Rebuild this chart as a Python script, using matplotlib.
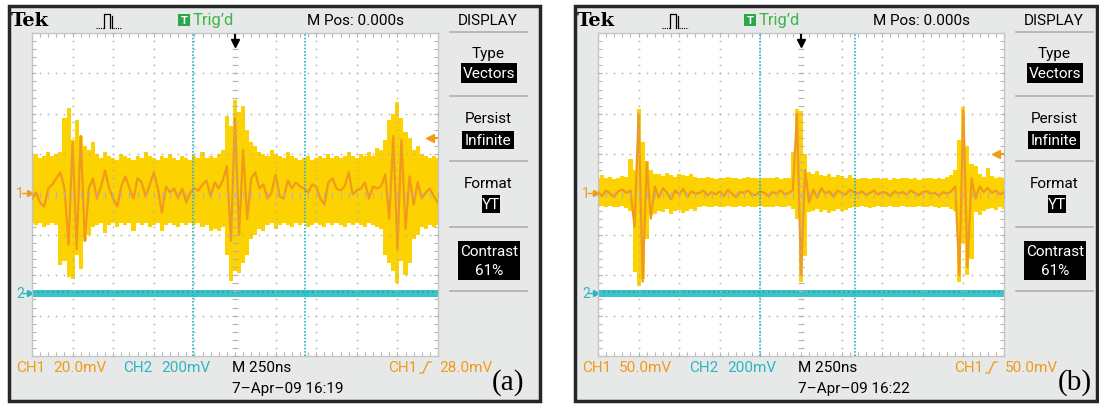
import matplotlib.pyplot as plt
import numpy as np
from matplotlib.patches import Rectangle
from matplotlib.lines import Line2D

# 101 screen samples, 25 ns apart (250 ns/div, 10 div)
time_ns = np.linspace(-1250, 1250, 101)

# --- panel (a): CH1 20 mV/div, persistence envelope + averaged vector trace
a_top_mv = [19, 20, 18, 19, 21, 19, 20,
            21, 38, 43, 27, 37, 29, 24, 22, 26,
            20, 18, 21, 19, 18, 17, 20, 19, 18, 17, 19, 18, 21, 19, 18, 17,
            19, 18, 20, 18, 17, 19, 18, 17, 19, 18, 21, 18, 19, 18, 20, 22,
            39, 34, 47, 41, 44, 32, 26, 24, 21, 20, 19,
            22, 20, 19, 18, 21, 19, 18, 17, 18, 19, 17, 18, 19, 18, 20, 18,
            19, 18, 19, 21, 19, 18, 20, 19, 21, 19, 23,
            22, 27, 37, 40, 46, 38, 31, 28, 22, 24, 20, 19, 18, 19, 18]
a_bot_mv = [-14, -15, -14, -16, -15, -14, -15,
            -35, -33, -41, -42, -30, -37, -23, -20, -16,
            -15, -14, -19, -15, -14, -16, -14, -15, -14, -18, -14, -15, -14, -16, -15, -14,
            -18, -15, -14, -15, -16, -14, -15, -14, -15, -14, -16, -15, -18, -17, -18, -16,
            -30, -43, -38, -39, -34, -30, -22, -20, -17, -18, -15,
            -14, -17, -15, -14, -15, -16, -14, -15, -14, -16, -15, -14, -15, -16, -14, -15,
            -14, -15, -16, -14, -15, -14, -15, -16, -14, -15, -16,
            -17, -30, -34, -38, -44, -33, -40, -34, -22, -20, -16, -17, -15, -16, -15]
a_avg_mv = [-2, 1, -4, -6, 3, 5, 8, 11, 3, -25, 26, -27, 29, -23, 3, 8,
            -2, 4, 12, 3, -2, -6, 4, 9, 3, -2, 8, 6, -1, 5, 11, 3,
            -9, 4, 1, 3, -2, 3, -4, 1, 3, 2, 5, 7, -1, 6, 3, 7,
            14, -23, 38, -20, 22, -12, 8,
            11, 3, 5, -2, 1, 10, -1, -2, 7, 3, 6, 4, 3, 1, 5, 4,
            -2, -5, 6, 8, 3, 2, 4, 11, 0, 2, 3, 6, -2, 4, 3,
            4, 10, -12, 29, -27, 27, -17, 9, -5, 6, -2, 1, 3, -1, -4]

# --- panel (b): CH1 50 mV/div
b_top_mv = [21, 24, 20, 22, 19, 21, 23, 22,
            44, 30, 106, 65, 42, 30, 26,
            25, 23, 27, 24, 22, 26, 24, 23, 25, 22,
            21, 20, 22, 21, 19, 21, 20, 22, 21, 20, 19, 21, 22, 20, 21, 19, 20, 21, 20, 22, 19, 21, 20,
            53, 106, 104, 50, 28,
            26, 29, 24, 23, 25, 22, 24, 23, 21, 24,
            20, 19, 21, 20, 19, 20, 21, 19, 20, 18, 20, 19, 21, 20, 19, 20, 18, 19, 20, 21, 19, 20, 19, 22, 24,
            30, 67, 108, 60, 38, 35, 25, 22, 33,
            23, 21, 22, 20]
b_bot_mv = [-15, -14, -16, -14, -15, -16, -14, -17,
            -20, -96, -113, -105, -55, -25, -24,
            -20, -22, -18, -24, -21, -19, -23, -20, -18, -21,
            -15, -14, -16, -15, -14, -16, -15, -14, -15, -16, -14, -15, -14, -16, -15, -14, -15, -16,
            -15, -14, -16, -15, -14,
            -18, -30, -108, -76, -22,
            -20, -18, -22, -19, -23, -20, -18, -21, -19, -17,
            -15, -16, -14, -15, -17, -15, -14, -16, -15, -14, -15, -16, -14, -15, -16, -15, -14, -15,
            -16, -14, -15, -17, -15, -16, -18,
            -20, -108, -60, -100, -80, -22, -25, -20, -18,
            -17, -19, -16, -18]
b_avg_mv = [3, -2, 5, 1, -3, 4, 6, 2,
            5, -40, 100, -108, 40, -30, 10,
            -4, 8, 2, -6, 5, 0, 7, -3, 4, 1,
            2, 5, -1, 3, 0, 4, -2, 6, 1, -3, 3, 2, 5, -1, 0, 4, 2, -2, 3, 1, 5, 0, 2,
            5, 100, -100, 30, -10,
            6, -4, 8, 1, 4, -3, 5, 2, 0, 6,
            3, 1, 4, -1, 2, 5, 0, 3, 2, -2, 4, 1, 3, 0, 5, 2, -1, 3, 4, 1, 2, -2, 3, 1, 4,
            10, -100, 104, -90, 20, -5, 10, 3, 8,
            2, 5, 0, 3]

ch2_band_mv = [-17, 19]          # CH2 200 mV/div, flat noisy line
a_cursors_ns = [-257, 430]
b_cursors_ns = [-255, 335]

W, H = 1099, 406
plt.rcParams['font.family'] = ['Roboto', 'DejaVu Sans']

YEL = '#fcd200'
ORA = '#f29a1c'
CYA = '#3cc3c8'
CYA_D = '#1d9fb0'
CYA_T = '#2cb6c2'
GRID = '#b4b4b4'
FS = 11

fig = plt.figure(figsize=(W / 100, H / 100), dpi=100)


def fx(x):
    return x / W


def fy(y):
    return 1 - y / H


def txt(x, y, s, **kw):
    kw.setdefault('va', 'center')
    kw.setdefault('fontsize', FS)
    fig.text(fx(x), fy(y), s, **kw)


def box(x0, y0, x1, y1, **kw):
    fig.add_artist(Rectangle((fx(x0), fy(y1)), (x1 - x0) / W, (y1 - y0) / H,
                             transform=fig.transFigure, **kw))


def line(xs, ys, **kw):
    fig.add_artist(Line2D([fx(x) for x in xs], [fy(y) for y in ys],
                          transform=fig.transFigure, **kw))


def panel(ox, right, mv_div, top, bot, avg, trig_mv, cursors, ch1_txt, trig_txt, stamp, tag):
    # bezel and frame
    box(ox + 9, 7, right, 402, facecolor='#e7e9e8', edgecolor='#262626', lw=2.5, zorder=-1)

    ax = fig.add_axes([fx(ox + 32), fy(357), 406 / W, 323 / H])
    ax.set_xlim(-5, 5)
    ax.set_ylim(-4, 4)
    ax.set_facecolor('white')
    for s in ax.spines.values():
        s.set_color('#c4c4c4')
        s.set_linewidth(1)
    ax.set_xticks(np.arange(-5, 5.01, 1))
    ax.set_yticks(np.arange(-4, 4.01, 1))
    ax.set_xticks(np.arange(-5, 5.01, 0.2), minor=True)
    ax.set_yticks(np.arange(-4, 4.01, 0.2), minor=True)
    ax.tick_params(which='both', direction='in', length=3, width=0.8, colors=GRID,
                   top=True, right=True, labelbottom=False, labelleft=False)

    # graticule dots
    ys = np.arange(-4, 4.01, 0.2)
    xs = np.arange(-5, 5.01, 0.2)
    for k in range(-4, 5):
        if k:
            ax.plot(np.full(ys.size, k), ys, ls='none', marker='s', ms=1.1, mew=0, color=GRID, zorder=4)
    for k in range(-3, 4):
        if k:
            ax.plot(xs, np.full(xs.size, k), ls='none', marker='s', ms=1.1, mew=0, color=GRID, zorder=4)
    ax.plot(np.zeros(ys.size), ys, ls='none', marker='_', ms=4, mew=0.8, color=GRID, zorder=4)
    ax.plot(xs, np.zeros(xs.size), ls='none', marker='|', ms=4, mew=0.8, color=GRID, zorder=4)

    # CH1 traces
    t = time_ns / 250
    ax.fill_between(t, np.array(bot) / mv_div, np.array(top) / mv_div, step='mid',
                    color=YEL, lw=0, zorder=2)
    ax.plot(t, np.array(avg) / mv_div, color=ORA, lw=1.6, zorder=3)

    # CH2
    z2 = -2.46
    ax.fill_between([-5, 5], z2 + ch2_band_mv[0] / 200, z2 + ch2_band_mv[1] / 200,
                    color=CYA, lw=0, zorder=2)
    ax.plot([-5, 5], [z2 + 0.04] * 2, color=CYA_D, ls=(0, (1, 2)), lw=1.2, zorder=2)

    # cursors
    for c in cursors:
        ax.axvline(c / 250, color='#2ab4c6', ls=(0, (1, 1)), lw=1.2, zorder=5)

    # trigger position / level markers
    ax.plot([0, 0], [3.95, 3.8], color='k', lw=1.5, zorder=6)
    ax.plot(0, 3.75, marker='v', ms=6, color='k', zorder=6)
    ax.plot([4.8, 4.98], [trig_mv / mv_div] * 2, color=ORA, lw=1.5, zorder=6)
    ax.plot(4.8, trig_mv / mv_div, marker='<', ms=6, color=ORA, zorder=6)

    # channel ground markers
    ax.plot([-5.24, -5.06], [0.04, 0.04], color=ORA, lw=1, clip_on=False)
    ax.plot(-5.06, 0.04, marker='>', ms=4, color=ORA, clip_on=False)
    ax.plot([-5.24, -5.06], [-2.44, -2.44], color=CYA_T, lw=1, clip_on=False)
    ax.plot(-5.06, -2.44, marker='>', ms=4, color=CYA_T, clip_on=False)
    txt(ox + 16, 194, '1', color=ORA, fontsize=10)
    txt(ox + 16, 294, '2', color=CYA_T, fontsize=10)

    # header
    txt(ox + 11, 21, 'Tek', family='DejaVu Serif', weight='bold', fontsize=14)
    line([ox + 96, ox + 104], [29, 29], color='k', lw=0.8, ls=(0, (1, 1)))
    line([ox + 104, ox + 104, ox + 110, ox + 110], [29, 15, 15, 29], color='k', lw=0.9)
    line([ox + 112, ox + 112], [17, 29], color='k', lw=0.9)
    line([ox + 113, ox + 122], [29, 29], color='k', lw=0.8, ls=(0, (1, 1)))
    box(ox + 178, 15, ox + 190, 27, facecolor='#2aa84a', lw=0)
    txt(ox + 184, 21, 'T', color='white', ha='center', fontsize=8, weight='bold')
    txt(ox + 193, 21, 'Trig\u2019d', color='#3db54a', fontsize=12)
    txt(ox + 307, 21, 'M Pos: 0.000s')
    txt(ox + 488, 21, 'DISPLAY', ha='center')

    # side menu
    for y in [33, 97, 162, 228, 292]:
        line([ox + 450, ox + 527], [y, y], color='#b0b0b0', lw=1.2)
    txt(ox + 488, 54, 'Type', ha='center')
    box(ox + 461, 64, ox + 517, 84, facecolor='black', lw=0)
    txt(ox + 489, 74, 'Vectors', ha='center', color='white')
    txt(ox + 488, 119, 'Persist', ha='center')
    box(ox + 462, 132, ox + 514, 150, facecolor='black', lw=0)
    txt(ox + 488, 141, 'Infinite', ha='center', color='white')
    txt(ox + 488, 184, 'Format', ha='center')
    box(ox + 482, 196, ox + 500, 214, facecolor='black', lw=0)
    txt(ox + 491, 205, 'YT', ha='center', color='white')
    box(ox + 458, 242, ox + 520, 281, facecolor='black', lw=0)
    txt(ox + 489, 252, 'Contrast', ha='center', color='white')
    txt(ox + 489, 271, '61%', ha='center', color='white')

    # readouts
    txt(ox + 16, 368, 'CH1', color=ORA)
    txt(ox + 53, 368, ch1_txt, color=ORA)
    txt(ox + 123, 368, 'CH2', color=CYA_T)
    txt(ox + 161, 368, '200mV', color=CYA_T)
    txt(ox + 232, 368, 'M 250ns')
    txt(ox + 388, 368, 'CH1', color=ORA)
    line([ox + 420, ox + 423, ox + 428, ox + 431], [374, 374, 363, 363], color=ORA, lw=1)
    txt(ox + 439, 368, trig_txt, color=ORA)
    txt(ox + 232, 389, stamp)
    txt(ox + 492, 383, tag, family='Liberation Serif', fontsize=21)


panel(0, 540, 20.0, a_top_mv, a_bot_mv, a_avg_mv, 28.0, a_cursors_ns,
      '20.0mV', '28.0mV', '7\u2013Apr\u201309 16:19', '(a)')
panel(566, 1097, 50.0, b_top_mv, b_bot_mv, b_avg_mv, 50.0, b_cursors_ns,
      '50.0mV', '50.0mV', '7\u2013Apr\u201309 16:22', '(b)')

fig.savefig('out.png', dpi=100, facecolor='white')
